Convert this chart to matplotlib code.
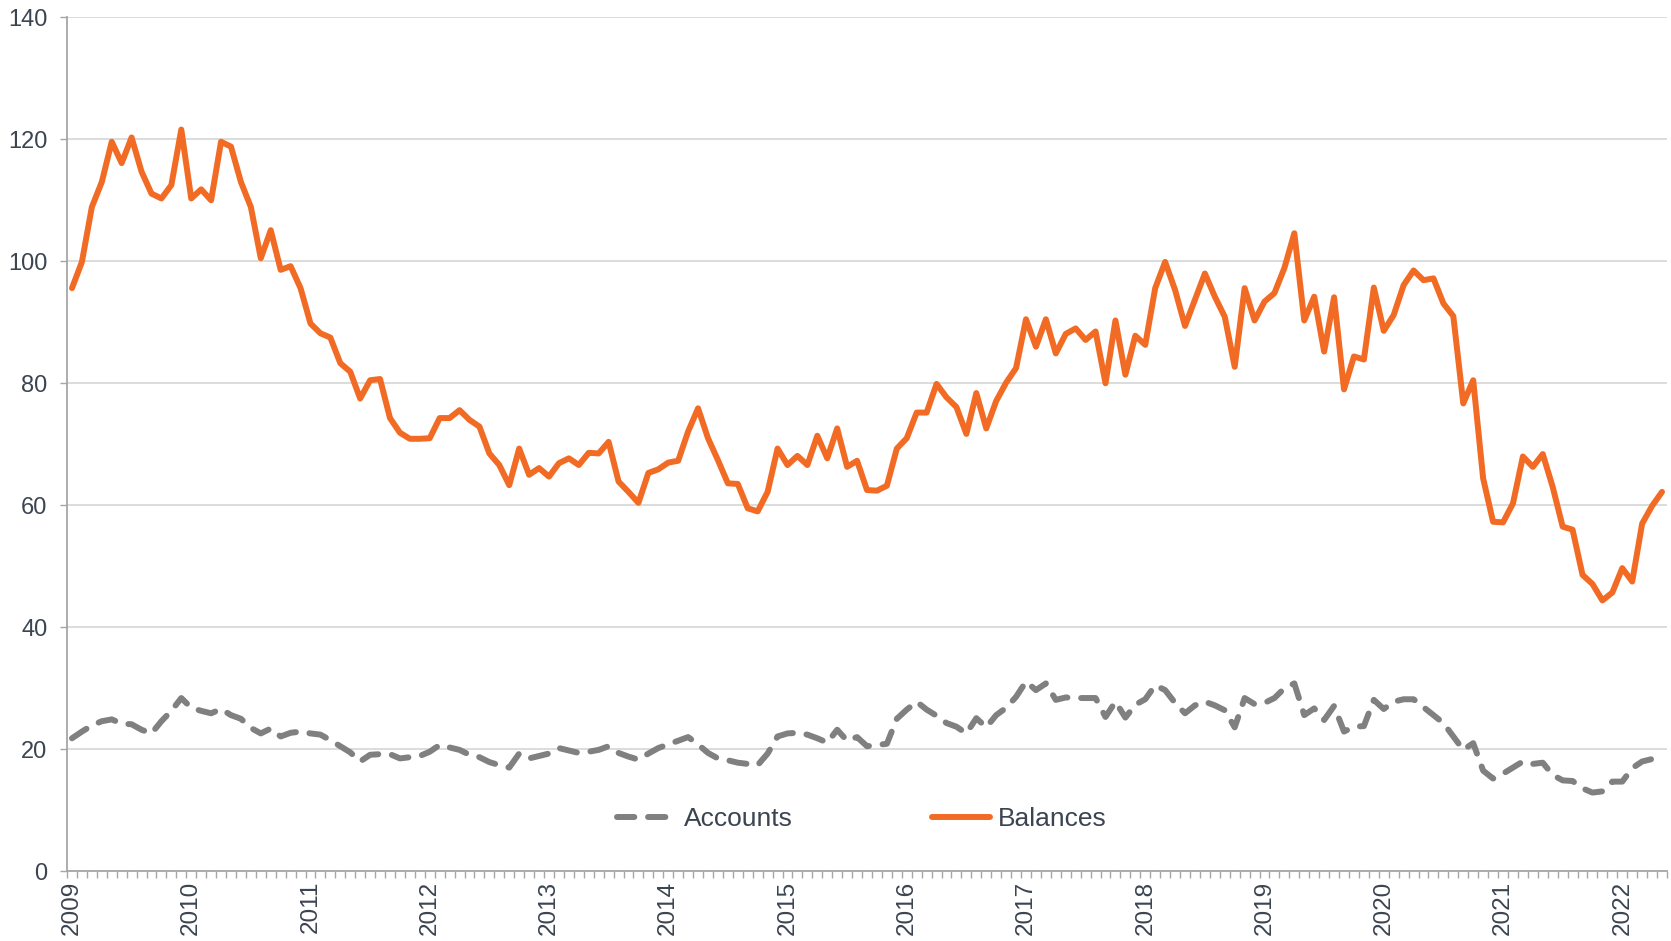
import numpy as np
import matplotlib
matplotlib.use("Agg")
import matplotlib.pyplot as plt
from matplotlib.lines import Line2D

# monthly series, Jan 2009 - May 2022
balances = [95.6, 99.9, 108.9, 113.0, 119.6, 116.1, 120.3, 114.7, 111.1, 110.3, 112.5, 121.6,
            110.3, 111.8, 110.0, 119.6, 118.8, 113.0, 108.9, 100.5, 105.1, 98.6, 99.2, 95.6,
            89.8, 88.2, 87.5, 83.3, 81.9, 77.5, 80.5, 80.7, 74.3, 71.9, 70.9, 70.9,
            71.0, 74.3, 74.3, 75.6, 74.0, 72.9, 68.5, 66.6, 63.3, 69.3, 65.0, 66.1,
            64.7, 66.9, 67.7, 66.6, 68.6, 68.5, 70.4, 63.9, 62.2, 60.4, 65.3, 65.9,
            67.0, 67.3, 72.1, 75.9, 71.0, 67.4, 63.6, 63.5, 59.5, 59.0, 62.2, 69.3,
            66.6, 68.1, 66.6, 71.4, 67.7, 72.6, 66.3, 67.3, 62.5, 62.4, 63.2, 69.3,
            71.0, 75.2, 75.2, 79.9, 77.7, 76.1, 71.7, 78.4, 72.6, 77.1, 80.1, 82.5,
            90.5, 86.0, 90.5, 84.9, 88.1, 89.0, 87.1, 88.5, 80.0, 90.3, 81.4, 87.8,
            86.3, 95.6, 99.9, 95.3, 89.4, 93.7, 98.0, 94.2, 90.9, 82.7, 95.6, 90.3,
            93.4, 94.8, 98.9, 104.6, 90.3, 94.2, 85.2, 94.1, 79.0, 84.4, 83.9, 95.7,
            88.6, 91.2, 96.1, 98.5, 96.9, 97.2, 93.1, 91.0, 76.7, 80.5, 64.4, 57.3,
            57.2, 60.3, 68.0, 66.3, 68.4, 63.0, 56.5, 56.0, 48.6, 47.1, 44.4, 45.7,
            49.7, 47.5, 57.0, 59.9, 62.2]

accounts = [21.8, 22.9, 23.9, 24.6, 24.9, 24.2, 24.1, 23.2, 22.6, 24.6, 26.3, 28.4,
            26.8, 26.3, 25.9, 26.6, 25.6, 25.0, 23.5, 22.6, 23.4, 22.1, 22.7, 22.9,
            22.6, 22.4, 21.5, 20.5, 19.5, 18.0, 19.1, 19.2, 19.2, 18.5, 18.7, 18.9,
            19.6, 20.7, 20.3, 19.9, 19.1, 18.7, 17.9, 17.4, 17.0, 19.3, 18.5, 18.9,
            19.3, 20.2, 19.8, 19.4, 19.6, 19.9, 20.5, 19.4, 18.8, 18.3, 19.3, 20.2,
            20.8, 21.4, 22.0, 20.8, 19.4, 18.5, 18.2, 17.8, 17.6, 17.4, 19.3, 22.1,
            22.6, 22.7, 22.4, 21.8, 21.1, 23.2, 21.4, 22.0, 20.5, 20.7, 20.9, 25.0,
            26.5, 27.8, 26.5, 25.5, 24.3, 23.7, 22.6, 25.1, 23.6, 25.6, 26.8, 28.6,
            31.1, 29.7, 30.8, 28.1, 28.5, 28.4, 28.4, 28.4, 25.3, 27.8, 25.2, 27.3,
            28.2, 30.5, 29.7, 27.6, 25.9, 27.2, 27.8, 27.2, 26.4, 23.6, 28.4, 27.4,
            27.6, 28.4, 30.0, 30.8, 25.6, 26.7, 24.8, 27.1, 22.9, 23.7, 23.8, 28.1,
            26.6, 27.8, 28.2, 28.2, 26.9, 25.6, 24.3, 22.1, 19.9, 21.0, 16.5, 15.2,
            16.0, 17.0, 18.0, 17.6, 17.8, 15.8, 14.9, 14.8, 13.6, 12.9, 13.1, 14.7,
            14.7, 16.9, 18.0, 18.4, 18.8]

years = [str(y) for y in range(2009, 2023)]

TEXT = "#3b4451"
ORANGE = "#f26b25"
GREY = "#808080"
LW = 4.3
DASH = (2.9, 2.3)

plt.rcParams["font.family"] = ["Liberation Sans", "DejaVu Sans"]

fig = plt.figure(figsize=(16.71, 9.41), dpi=100)
ax = fig.add_axes([0.0401, 0.0741, 0.9575, 0.9075])

x = np.arange(len(balances))
ax.plot(x, accounts, color=GREY, lw=LW, dashes=DASH,
        dash_capstyle="round", dash_joinstyle="round", zorder=3)
ax.plot(x, balances, color=ORANGE, lw=LW, solid_joinstyle="round",
        solid_capstyle="round", zorder=4)

ax.set_xlim(-0.5, len(balances) - 0.5)
ax.set_ylim(0, 140)
ax.set_yticks(range(0, 141, 20))
ax.grid(axis="y", color="#d9d9d9", lw=1.3, zorder=0)
ax.set_axisbelow(True)

# year labels at first month of each year, monthly ticks between categories
ax.set_xticks(np.arange(0, len(balances), 12))
ax.set_xticklabels(years, rotation=90, va="top", ha="center")
ax.set_xticks(np.arange(-0.5, len(balances), 1), minor=True)
ax.tick_params(axis="x", which="major", length=0, pad=7, labelsize=17.5, labelcolor=TEXT)
ax.tick_params(axis="x", which="minor", length=5, width=1, color="#a6a6a6", direction="out")
ax.tick_params(axis="y", length=5, width=1, color="#a6a6a6", pad=9,
               labelsize=17, labelcolor=TEXT)

for s in ["top", "right"]:
    ax.spines[s].set_visible(False)
for s in ["left", "bottom"]:
    ax.spines[s].set_color("#a6a6a6")
    ax.spines[s].set_linewidth(1.3)

handles = [Line2D([], [], color=GREY, lw=LW, dashes=DASH, dash_capstyle="round"),
           Line2D([], [], color=ORANGE, lw=LW, solid_capstyle="round")]
leg = ax.legend(handles, ["Accounts", "Balances"], loc="center",
                bbox_to_anchor=(0.497, 0.061), ncol=2, frameon=False,
                fontsize=19, handlelength=2.2, handletextpad=0.3,
                columnspacing=5.3)
for t in leg.get_texts():
    t.set_color(TEXT)

fig.savefig("out.png", dpi=100, facecolor="white")
